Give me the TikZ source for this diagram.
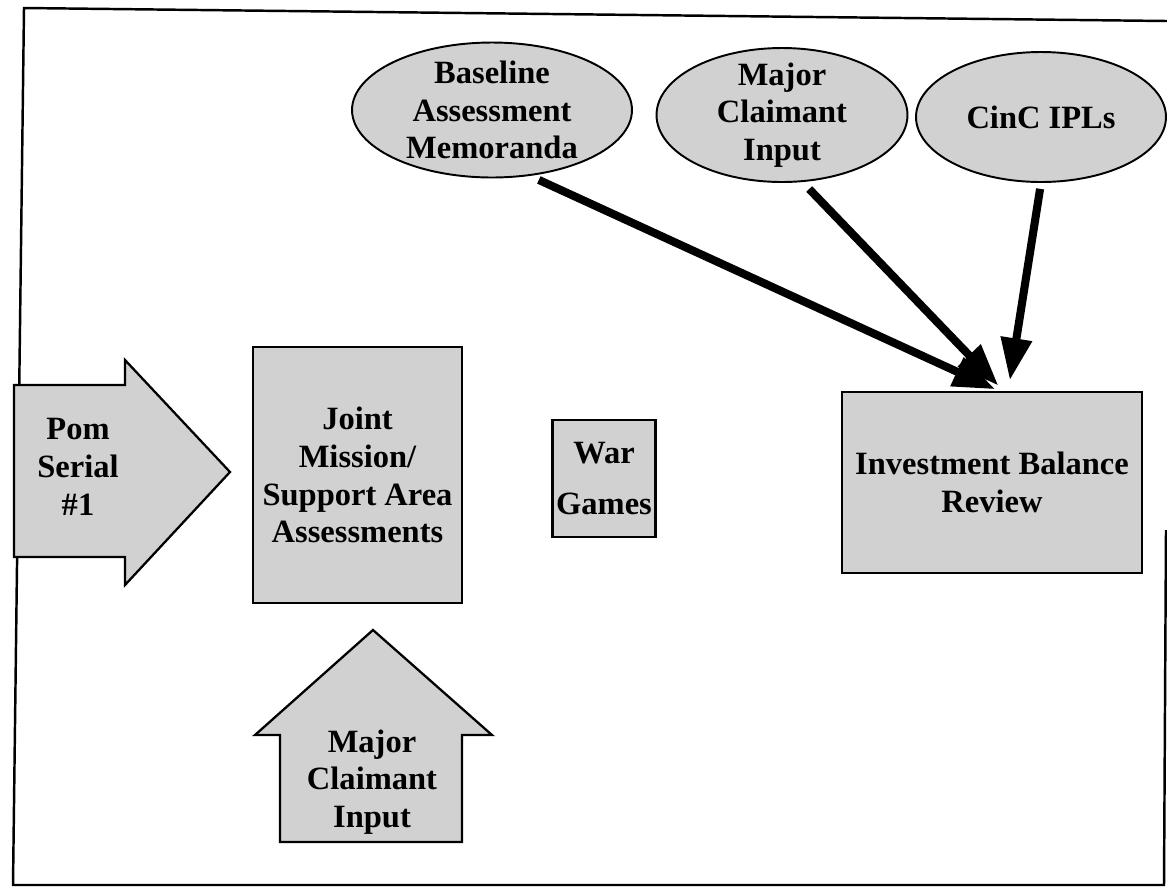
\documentclass[tikz,border=0pt]{standalone}
\usepackage{fontspec}
\setmainfont{Liberation Serif}
\usetikzlibrary{arrows.meta,shapes.geometric}
\begin{document}
\begin{tikzpicture}[x=0.02cm,y=-0.02cm]\tikzset{txt/.style = {align=center, font=\bfseries\fontsize{18.5}{21.5}\selectfont},
	box/.style = {txt, shape=rectangle, draw, line width=1.5pt, fill=black!18},
	oval/.style = {txt, shape=ellipse, draw, line width=1.1pt, fill=black!18, inner xsep=0pt, inner ysep=-4pt},
	block/.style = {draw, line width=1.3pt, fill=black!18, line join=miter},
	flow/.style = {line width=4.6pt, -{Triangle[length=24pt,width=17pt]}}}
	\useasboundingbox (0,0) rectangle (1167,887);

		\draw[line width=1.4pt] (1166,530) -- (1164,885) -- (13,885) -- (24,8) -- (1167,21);

		\node[oval, minimum width=5.6cm, minimum height=2.7cm] (E_1) at (492,110) {Baseline\\Assessment\\Memoranda};
		\node[oval, minimum width=5.02cm, minimum height=2.68cm] (E_2) at (782,115) {Major\\Claimant\\Input};
		\node[oval, minimum width=5.0cm, minimum height=2.6cm] (E_3) at (1041,117) {CinC IPLs};

		\node[box, minimum width=4.18cm, minimum height=5.12cm] (R_1) at (357.5,475) {Joint\\Mission/\\Support Area\\Assessments};
		\node[box, minimum width=2.04cm, minimum height=2.34cm, inner sep=2pt] (R_2) at (604,478.5) {War\\[8pt]Games};
		\node[box, minimum width=6.0cm, minimum height=3.62cm] (R_3) at (992,482.5) {Investment Balance\\Review};

		\draw[block] (14,385) -- (125,385) -- (125,360) -- (230,472) -- (125,585) -- (125,557) -- (14,557) -- cycle;
		\node[txt] (P_1) at (78,467) {Pom\\Serial\\\#1};
		\draw[block] (280,842) -- (280,735) -- (255,735) -- (373,630) -- (492,735) -- (462,735) -- (462,842) -- cycle;
		\node[txt] (P_2) at (372,782) {Major\\Claimant\\Input};

		\draw[flow, shorten <=5.5pt, shorten >=2pt] (E_1.-60) -- (R_3.86);
		\draw[flow, shorten <=5.5pt, shorten >=4pt] (E_2.-73) -- (R_3.83);
		\draw[flow, shorten <=3.4pt, shorten >=6pt] (E_3.south) -- (R_3.80);
	\end{tikzpicture}
\end{document}
